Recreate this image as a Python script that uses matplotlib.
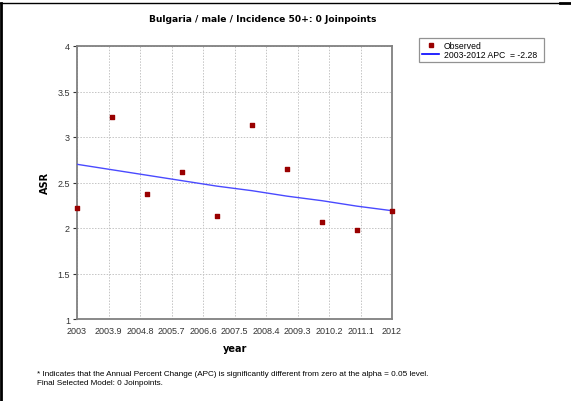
import numpy as np
import matplotlib
matplotlib.use('Agg')
import matplotlib.pyplot as plt
from matplotlib.lines import Line2D

years = [2003, 2004, 2005, 2006, 2007, 2008, 2009, 2010, 2011, 2012]
observed = [2.22, 3.22, 2.37, 2.62, 2.13, 3.13, 2.65, 2.07, 1.98, 2.19]
fitted = [2.70, 2.64, 2.58, 2.52, 2.46, 2.41, 2.35, 2.30, 2.24, 2.19]
x_ticks = [2003, 2003.9, 2004.8, 2005.7, 2006.6, 2007.5, 2008.4, 2009.3, 2010.2, 2011.1, 2012]
y_ticks = [1, 1.5, 2, 2.5, 3, 3.5, 4]

plt.rcParams['font.family'] = ['Liberation Sans', 'DejaVu Sans']

fig = plt.figure(figsize=(5.71, 4.02), dpi=100)
ax = fig.add_axes([77 / 571, 1 - 320 / 402, (392 - 77) / 571, (320 - 47) / 402])

ax.plot(years, fitted, color='#4a4aff', lw=1.0, zorder=3)
ax.scatter(years, observed, marker='s', s=10, color='#990000', zorder=4, clip_on=False)

ax.set_xlim(2003, 2012)
ax.set_ylim(1, 4)
ax.set_xticks(x_ticks)
ax.set_xticklabels([f'{t:g}' for t in x_ticks])
ax.set_yticks(y_ticks)
ax.set_yticklabels([f'{t:g}' for t in y_ticks])
ax.tick_params(labelsize=6.5, colors='#333333', length=3, width=0.8, pad=2)
ax.tick_params(axis='x', length=0, pad=5)
ax.grid(True, color='#c4c4c4', linestyle=(0, (1.5, 1.5)), lw=0.7)
for s in ax.spines.values():
    s.set_color('#808080')
    s.set_linewidth(1.3)

fig.text(263 / 571, 1 - 20 / 402, 'Bulgaria / male / Incidence 50+: 0 Joinpoints',
         ha='center', va='center', fontsize=6.6, fontweight='bold', family='DejaVu Sans')
fig.text(45 / 571, 1 - 183 / 402, 'ASR', rotation=90, ha='center', va='center',
         fontsize=7, fontweight='bold', family='DejaVu Sans')
fig.text(235 / 571, 1 - 349 / 402, 'year', ha='center', va='center',
         fontsize=7, fontweight='bold', family='DejaVu Sans')
fig.text(37 / 571, 1 - 375 / 402,
         '* Indicates that the Annual Percent Change (APC) is significantly different from zero at the alpha = 0.05 level.',
         ha='left', va='center', fontsize=5.9)
fig.text(37 / 571, 1 - 384 / 402, 'Final Selected Model: 0 Joinpoints.',
         ha='left', va='center', fontsize=5.9)

handles = [Line2D([], [], marker='s', ls='none', color='#990000', markersize=2.5),
           Line2D([], [], color='#0000ff', lw=1.2)]
leg = fig.legend(handles, ['Observed', '2003-2012 APC  = -2.28  '],
                 loc='upper left', bbox_to_anchor=(419 / 571, 1 - 39 / 402),
                 fontsize=6.2, frameon=True, fancybox=False, edgecolor='#777777',
                 borderpad=0.35, handlelength=2.0, handletextpad=0.5, labelspacing=0.05,
                 borderaxespad=0)
leg.get_frame().set_linewidth(0.9)

# outer border lines (top and left)
fig.add_artist(Line2D([0, 560 / 571], [1 - 4 / 402] * 2, color='black', lw=1.0, transform=fig.transFigure))
fig.add_artist(Line2D([560 / 571, 1], [1 - 3.5 / 402] * 2, color='black', lw=2.0, transform=fig.transFigure))
fig.add_artist(Line2D([1 / 571] * 2, [0, 1 - 4 / 402], color='black', lw=2.0, transform=fig.transFigure))

fig.savefig('out.png', dpi=100, facecolor='white')
